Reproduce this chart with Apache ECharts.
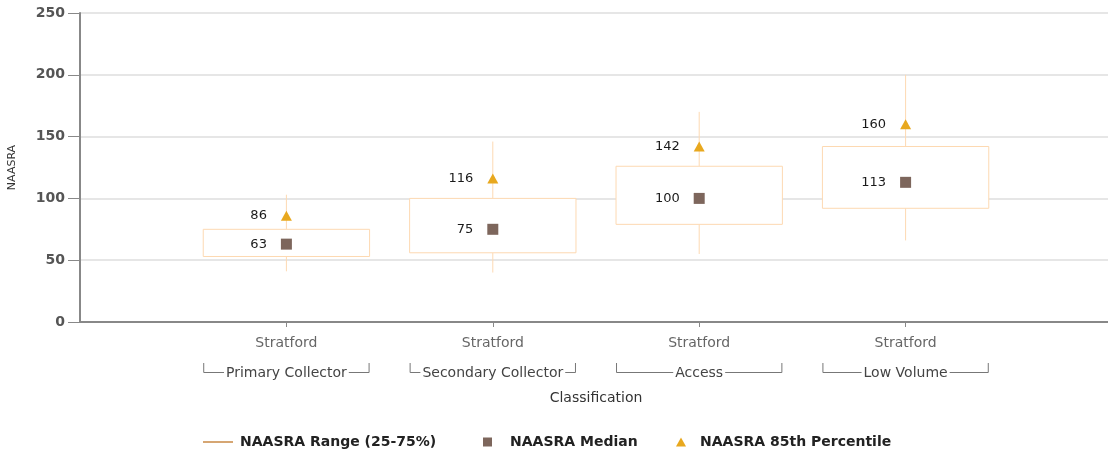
<!DOCTYPE html>
<html>
<head>
<meta charset="utf-8">
<script src="https://cdn.jsdelivr.net/npm/echarts@6/dist/echarts.min.js"></script>
<style>
  html, body { margin: 0; padding: 0; background: #fff; }
  #chart { width: 1108px; height: 456px; }
</style>
</head>
<body>
<div id="chart"></div>
<script>
// Site name shown under each classification column
const sites = ['Stratford', 'Stratford', 'Stratford', 'Stratford'];
// Road classification groups
const groups = ['Primary Collector', 'Secondary Collector', 'Access', 'Low Volume'];
// NAASRA roughness statistics per classification
const lowWhisker = [41, 40, 55, 66];
const q1 = [53, 56, 79, 92];
const q3 = [75, 100, 126, 142];
const highWhisker = [103, 146, 170, 200];
const median = [63, 75, 100, 113];
const pct85 = [86, 116, 142, 160];
// Y axis ticks
const yTicks = { min: 0, max: 250, interval: 50 };

const FONT = 'DejaVu Sans';
// category axis with an empty slot at each end
const xCats = [''].concat(sites, ['']);

const rangeData = sites.map((s, i) => [i + 1, lowWhisker[i], q1[i], q3[i], highWhisker[i]]);
const medianData = median.map((v, i) => [i + 1, v]);
const pctData = pct85.map((v, i) => [i + 1, v]);

const chart = echarts.init(document.getElementById('chart'), null, { renderer: 'canvas' });

function renderRange(params, api) {
  const x = api.value(0);
  const pLo = api.coord([x, api.value(1)]);
  const pQ1 = api.coord([x, api.value(2)]);
  const pQ3 = api.coord([x, api.value(3)]);
  const pHi = api.coord([x, api.value(4)]);
  const base = api.coord([x, yTicks.min]);
  const band = api.size([1, 0])[0];
  const bw = band * 0.806;
  const cx = pQ1[0];
  const left = cx - bw / 2, right = cx + bw / 2;
  const stroke = '#fdd9b2';
  const by = base[1] + 50;
  const label = groups[params.dataIndex];
  return {
    type: 'group',
    children: [
      { type: 'line', shape: { x1: cx, y1: pHi[1], x2: cx, y2: pQ3[1] }, style: { stroke: stroke, lineWidth: 1 } },
      { type: 'line', shape: { x1: cx, y1: pQ1[1], x2: cx, y2: pLo[1] }, style: { stroke: stroke, lineWidth: 1 } },
      { type: 'rect', shape: { x: left, y: pQ3[1], width: bw, height: pQ1[1] - pQ3[1] },
        style: { fill: '#fff', stroke: stroke, lineWidth: 1 } },
      // group bracket below the axis
      { type: 'polyline', shape: { points: [[left + 0.5, by - 9], [left + 0.5, by + 0.5], [right - 0.5, by + 0.5], [right - 0.5, by - 9]] },
        style: { stroke: '#777', lineWidth: 1, fill: null }, z2: 1 },
      { type: 'text', x: cx, y: by + 1, z2: 2,
        style: { text: label, fill: '#444', font: '14px "' + FONT + '"', align: 'center', verticalAlign: 'middle',
                 backgroundColor: '#fff', padding: [1, 2] } }
    ]
  };
}

const legendText = { fontFamily: FONT, fontSize: 14, fontWeight: 'bold', color: '#222' };

const option = {
  animation: false,
  textStyle: { fontFamily: FONT },
  grid: { left: 80, width: 1032, top: 13, bottom: 134, containLabel: false, outerBoundsMode: 'none' },
  xAxis: {
    type: 'category',
    data: xCats,
    boundaryGap: false,
    name: 'Classification',
    nameLocation: 'middle',
    nameGap: 69,
    nameTextStyle: { fontFamily: FONT, fontSize: 14, color: '#333' },
    axisLine: { lineStyle: { color: '#888', width: 2 } },
    axisTick: { show: true, length: 5, interval: (i, v) => v !== '', lineStyle: { color: '#888' } },
    axisLabel: { interval: 0, margin: 14, fontFamily: FONT, fontSize: 14, color: '#666' },
    splitLine: { show: false }
  },
  yAxis: {
    type: 'value',
    min: yTicks.min,
    max: yTicks.max,
    interval: yTicks.interval,
    name: 'NAASRA',
    nameLocation: 'middle',
    nameGap: 62,
    nameTextStyle: { fontFamily: FONT, fontSize: 11, color: '#333' },
    axisLine: { show: true, lineStyle: { color: '#888', width: 2 } },
    axisTick: { show: true, length: 12, lineStyle: { color: '#888' } },
    axisLabel: { margin: 15, fontFamily: FONT, fontSize: 14, fontWeight: 'bold', color: '#555' },
    splitLine: { lineStyle: { color: '#e6e6e6', width: 2 } }
  },
  legend: [
    {
      left: 203, top: 435, padding: 0, itemWidth: 30, itemHeight: 2, itemGap: 0,
      data: [{ name: 'NAASRA Range (25-75%)', icon: 'path://M0,0L30,0L30,2L0,2Z', itemStyle: { color: '#d6a673' } }],
      textStyle: Object.assign({ padding: [0, 0, 0, 2] }, legendText)
    },
    {
      left: 483, top: 435, padding: 0, itemWidth: 9, itemHeight: 9, itemGap: 0,
      data: [{ name: 'NAASRA Median', icon: 'rect' }],
      textStyle: Object.assign({ padding: [0, 0, 0, 13] }, legendText)
    },
    {
      left: 676, top: 435, padding: 0, itemWidth: 10, itemHeight: 9, itemGap: 0,
      data: [{ name: 'NAASRA 85th Percentile', icon: 'triangle' }],
      textStyle: Object.assign({ padding: [0, 0, 0, 9] }, legendText)
    }
  ],
  series: [
    {
      name: 'NAASRA Range (25-75%)',
      type: 'custom',
      renderItem: renderRange,
      itemStyle: { color: '#d6a673' },
      encode: { x: 0, y: [1, 2, 3, 4] },
      data: rangeData,
      z: 1
    },
    {
      name: 'NAASRA Median',
      type: 'scatter',
      symbol: 'rect',
      symbolSize: 11,
      itemStyle: { color: '#7d665c', opacity: 1 },
      label: { show: true, position: 'left', distance: 14, fontFamily: FONT, fontSize: 13, color: '#1a1a1a',
               formatter: p => p.value[1] },
      data: medianData,
      z: 3
    },
    {
      name: 'NAASRA 85th Percentile',
      type: 'scatter',
      symbol: 'triangle',
      symbolSize: [11, 10],
      itemStyle: { color: '#e8a81e', opacity: 1 },
      label: { show: true, position: 'left', distance: 14, fontFamily: FONT, fontSize: 13, color: '#1a1a1a',
               formatter: p => p.value[1] },
      data: pctData,
      z: 3
    }
  ]
};

chart.setOption(option);
</script>
</body>
</html>
